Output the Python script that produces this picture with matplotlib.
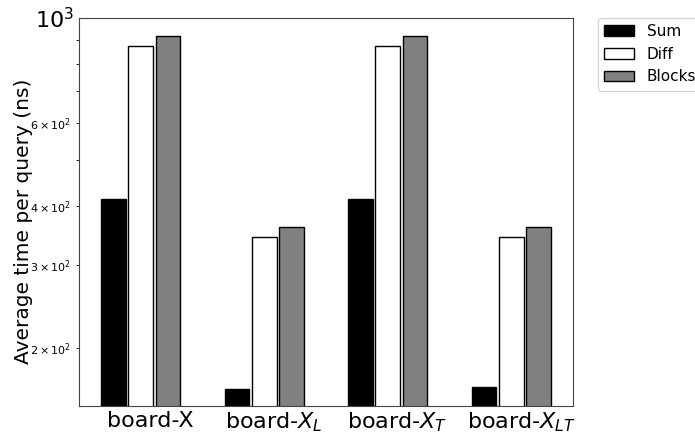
import numpy as np
import matplotlib
matplotlib.use("Agg")
import matplotlib.pyplot as plt

# values (ns)
boards = ["board-X", "board-$X_L$", "board-$X_T$", "board-$X_{LT}$"]
sum_times = [414, 163.5, 414, 165]
diff_times = [872, 343, 872, 343]
block_times = [916, 361, 916, 361]

x = np.arange(len(boards))
w = 0.2

fig = plt.figure(figsize=(6.95, 4.33), dpi=100)
ax = fig.add_axes([79 / 695, 1 - 406 / 433, 494 / 695, 388 / 433])

ax.bar(x - 0.22, sum_times, w, color="black", edgecolor="black", label="Sum")
ax.bar(x, diff_times, w, color="white", edgecolor="black", label="Diff")
ax.bar(x + 0.22, block_times, w, color="grey", edgecolor="black", label="Blocks")

ax.set_yscale("log")
ax.set_ylim(150.5, 1000)
ax.set_xlim(-0.5, 3.5)
# labels sit a bit right of the group centre
ax.set_xticks(x + 0.08)
ax.set_xticklabels(boards)
ax.tick_params(axis="x", which="both", length=0, labelsize=16)
ax.tick_params(axis="y", which="major", length=0, labelsize=16)
ax.tick_params(axis="y", which="minor", labelsize=8)
ax.set_ylabel("Average time per query (ns)", fontsize=14.5)
ax.yaxis.set_label_coords(-0.094, 0.477)

for s in ax.spines.values():
    s.set_color("#444444")

ax.legend(loc="upper left", bbox_to_anchor=(1.05, 1.0), borderaxespad=0, fontsize=11)

fig.savefig("out.png", dpi=100)
